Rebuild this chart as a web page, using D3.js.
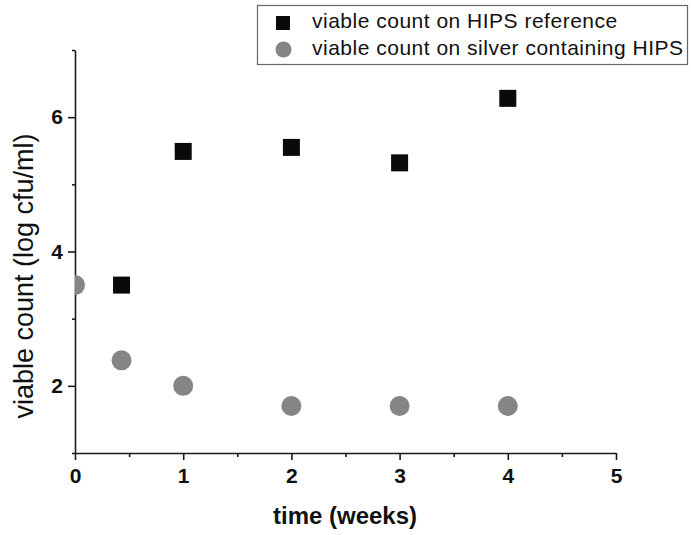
<!DOCTYPE html>
<html>
<head>
<meta charset="utf-8">
<script src="https://cdn.jsdelivr.net/npm/d3@7"></script>
<style>
  body { margin: 0; background: #fff; }
  svg { display: block; font-family: Arial, "Liberation Sans", sans-serif; }
</style>
</head>
<body>
<script>
// data
const refWeeks = [0.43, 1, 2, 3, 4];
const refCount = [3.5, 5.49, 5.55, 5.32, 6.28];
const silverWeeks = [0, 0.43, 1, 2, 3, 4];
const silverCount = [3.5, 2.38, 2.0, 1.7, 1.7, 1.7];
const xTicks = [0, 1, 2, 3, 4, 5];
const xMinor = [0.5, 1.5, 2.5, 3.5, 4.5];
const yTicks = [2, 4, 6];
const yMinor = [1, 3, 5, 7];
const legendLabels = ["viable count on HIPS reference", "viable count on silver containing HIPS"];

const w = 691, h = 535;
const margin = { top: 50, right: 75, bottom: 82, left: 75 };

const svg = d3.select("body").append("svg")
    .attr("width", w)
    .attr("height", h);

// scales
const xScale = d3.scaleLinear().domain([0, 5]).range([margin.left, w - margin.right]);
const yScale = d3.scaleLinear().domain([1, 7]).range([h - margin.bottom, margin.top]);

// clip for the markers (point at x=0 is cut by the axis)
svg.append("clipPath").attr("id", "plotClip")
    .append("rect")
    .attr("x", margin.left)
    .attr("y", margin.top)
    .attr("width", w - margin.left - margin.right)
    .attr("height", h - margin.top - margin.bottom);

// minor ticks
svg.append("g")
    .attr("transform", `translate(0,${yScale(1)})`)
    .call(d3.axisBottom(xScale).tickValues(xMinor).tickSize(4).tickFormat(""))
    .call(g => g.select(".domain").remove());
svg.append("g")
    .attr("transform", `translate(${xScale(0)},0)`)
    .call(d3.axisLeft(yScale).tickValues(yMinor).tickSize(3).tickFormat(""))
    .call(g => g.select(".domain").remove());

// x axis
const xAxisG = svg.append("g")
    .attr("transform", `translate(0,${yScale(1)})`)
    .call(d3.axisBottom(xScale).tickValues(xTicks).tickSize(7).tickSizeOuter(0).tickPadding(8).tickFormat(d3.format("d")));

// y axis
const yAxisG = svg.append("g")
    .attr("transform", `translate(${xScale(0)},0)`)
    .call(d3.axisLeft(yScale).tickValues(yTicks).tickSize(7).tickSizeOuter(0).tickPadding(5).tickFormat(d3.format("d")));

svg.selectAll(".domain, .tick line")
    .attr("stroke", "#1a1a1a")
    .attr("stroke-width", 1.6);
svg.selectAll(".tick text")
    .attr("fill", "#111")
    .style("font-family", "Arial, 'Liberation Sans', sans-serif")
    .style("font-size", "21px")
    .style("font-weight", "bold");

// axis titles
svg.append("text")
    .attr("x", 345)
    .attr("y", 524)
    .attr("text-anchor", "middle")
    .style("font-size", "24px")
    .style("font-weight", "bold")
    .attr("fill", "#111")
    .text("time (weeks)");

svg.append("text")
    .attr("transform", `translate(33,276) rotate(-90)`)
    .attr("text-anchor", "middle")
    .style("font-size", "27px")
    .attr("fill", "#111")
    .text("viable count (log cfu/ml)");

// markers
const marks = svg.append("g").attr("clip-path", "url(#plotClip)");
const sq = 17;
marks.selectAll("rect.ref")
    .data(refWeeks)
    .enter()
    .append("rect")
    .attr("class", "ref")
    .attr("x", (d, i) => xScale(d) - sq / 2)
    .attr("y", (d, i) => yScale(refCount[i]) - sq / 2)
    .attr("width", sq)
    .attr("height", sq)
    .attr("fill", "#0a0a0a");

marks.selectAll("circle.silver")
    .data(silverWeeks)
    .enter()
    .append("circle")
    .attr("class", "silver")
    .attr("cx", d => xScale(d))
    .attr("cy", (d, i) => yScale(silverCount[i]))
    .attr("r", 10)
    .attr("fill", "#858585");

// legend
const legend = svg.append("g");
legend.append("rect")
    .attr("x", 257.5)
    .attr("y", 5.5)
    .attr("width", 430)
    .attr("height", 59)
    .attr("fill", "#fff")
    .attr("stroke", "#666")
    .attr("stroke-width", 1.2);
legend.append("rect")
    .attr("x", 283 - 7)
    .attr("y", 23 - 7)
    .attr("width", 14)
    .attr("height", 14)
    .attr("fill", "#0a0a0a");
legend.append("circle")
    .attr("cx", 283.5)
    .attr("cy", 49.5)
    .attr("r", 8)
    .attr("fill", "#858585");
legend.selectAll("text")
    .data(legendLabels)
    .enter()
    .append("text")
    .attr("x", 312)
    .attr("y", (d, i) => 28 + i * 27)
    .style("font-size", "21px")
    .style("letter-spacing", "0.5px")
    .attr("fill", "#111")
    .text(d => d);
</script>
</body>
</html>
